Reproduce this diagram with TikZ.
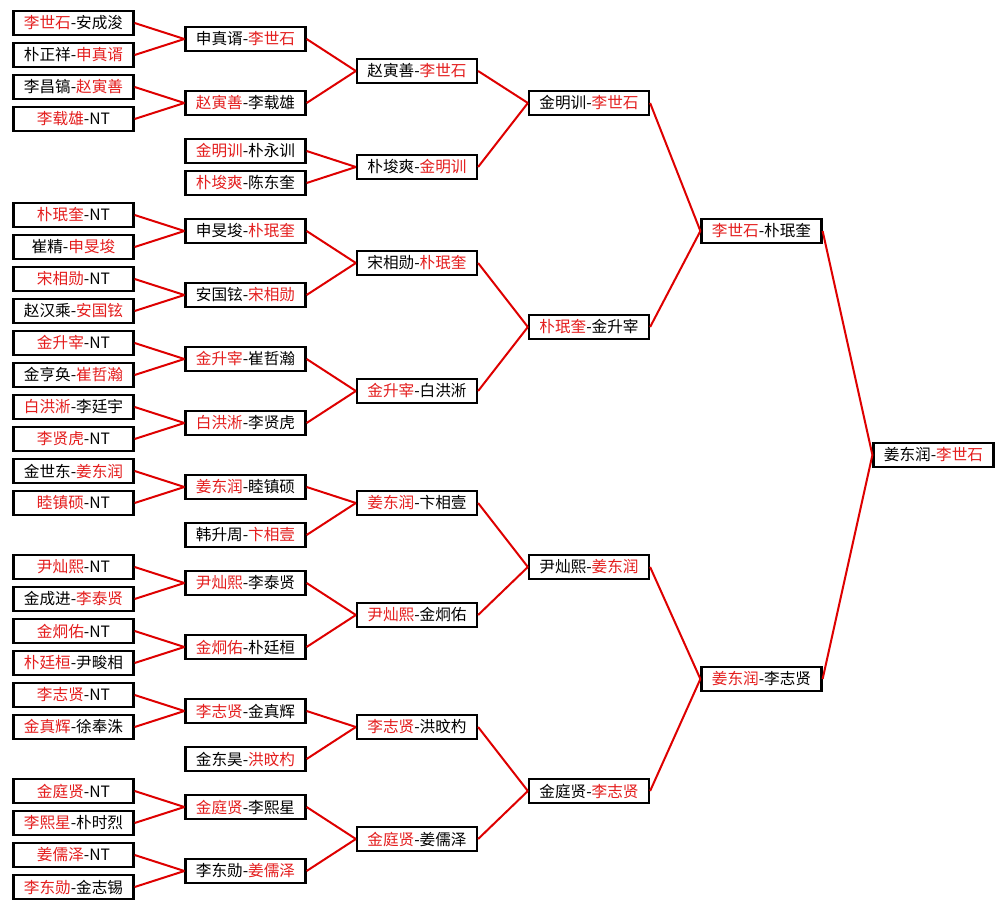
\documentclass[tikz,border=0pt]{standalone}
\usepackage{fontspec}
\newfontfamily\cjk{Noto Sans CJK SC}
\definecolor{winred}{RGB}{228,30,30}
\definecolor{linered}{RGB}{222,0,0}
\newcommand{\win}[1]{\textcolor{winred}{#1}}
\begin{document}
\begin{tikzpicture}[x=0.02cm,y=-0.02cm,
    pl/.style={draw,line width=0.045cm,fill=white,minimum width=2.4cm,minimum height=0.47cm,inner sep=0pt,font=\cjk\fontsize{8.9pt}{10pt}\selectfont},
    ln/.style={linered,line width=0.04cm}]
    \fill[white] (0,0) rectangle (1005,909);
    \useasboundingbox (0,0) rectangle (1005,909);
    % round 1
    \foreach[count=\i] \y/\txt in {23/\win{李世石}-安成浚,55/朴正祥-\win{申真谞},87/李昌镐-\win{赵寅善},119/\win{李载雄}-NT,
        215/\win{朴珉奎}-NT,247/崔精-\win{申旻埈},279/\win{宋相勋}-NT,311/赵汉乘-\win{安国铉},
        343/\win{金升宰}-NT,375/金亨奂-\win{崔哲瀚},407/\win{白洪淅}-李廷宇,439/\win{李贤虎}-NT,
        471/金世东-\win{姜东润},503/\win{睦镇硕}-NT,567/\win{尹灿熙}-NT,599/金成进-\win{李泰贤},
        631/\win{金炯佑}-NT,663/\win{朴廷桓}-尹畯相,695/\win{李志贤}-NT,727/\win{金真辉}-徐奉洙,
        791/\win{金庭贤}-NT,823/\win{李熙星}-朴时烈,855/\win{姜儒泽}-NT,887/\win{李东勋}-金志锡} {
        \node[pl] (a\i) at (73.5,\y) {\txt};
    }
    % round 2
    \foreach[count=\i] \y/\txt in {39/申真谞-\win{李世石},103/\win{赵寅善}-李载雄,151/\win{金明训}-朴永训,183/\win{朴埈爽}-陈东奎,
        231/申旻埈-\win{朴珉奎},295/安国铉-\win{宋相勋},359/\win{金升宰}-崔哲瀚,423/\win{白洪淅}-李贤虎,
        487/\win{姜东润}-睦镇硕,535/韩升周-\win{卞相壹},583/\win{尹灿熙}-李泰贤,647/\win{金炯佑}-朴廷桓,
        711/\win{李志贤}-金真辉,759/金东昊-\win{洪旼杓},807/\win{金庭贤}-李熙星,871/李东勋-\win{姜儒泽}} {
        \node[pl] (b\i) at (245.5,\y) {\txt};
    }
    % round 3
    \foreach[count=\i] \y/\txt in {71/赵寅善-\win{李世石},167/朴埈爽-\win{金明训},263/宋相勋-\win{朴珉奎},391/\win{金升宰}-白洪淅,
        503/\win{姜东润}-卞相壹,615/\win{尹灿熙}-金炯佑,727/\win{李志贤}-洪旼杓,839/\win{金庭贤}-姜儒泽} {
        \node[pl] (c\i) at (417,\y) {\txt};
    }
    % round 4
    \foreach[count=\i] \y/\txt in {103/金明训-\win{李世石},327/\win{朴珉奎}-金升宰,567/尹灿熙-\win{姜东润},791/金庭贤-\win{李志贤}} {
        \node[pl] (d\i) at (589,\y) {\txt};
    }
    % semifinal and final
    \node[pl] (e1) at (761.5,231) {\win{李世石}-朴珉奎};
    \node[pl] (e2) at (761.5,679) {\win{姜东润}-李志贤};
    \node[pl] (f1) at (933.5,455) {姜东润-\win{李世石}};
    % connectors
    \foreach \p/\q/\r in {1/2/1,3/4/2,5/6/5,7/8/6,9/10/7,11/12/8,13/14/9,15/16/11,17/18/12,19/20/13,21/22/15,23/24/16} {
        \draw[ln] (a\p.east) -- (b\r.west);
        \draw[ln] (a\q.east) -- (b\r.west);
    }
    \foreach \c/\n/\k in {b/c/8,c/d/4,d/e/2,e/f/1} {
        \foreach \j in {1,...,\k} {
            \pgfmathtruncatemacro\p{2*\j-1}
            \pgfmathtruncatemacro\q{2*\j}
            \draw[ln] (\c\p.east) -- (\n\j.west);
            \draw[ln] (\c\q.east) -- (\n\j.west);
        }
    }
\end{tikzpicture}
\end{document}
